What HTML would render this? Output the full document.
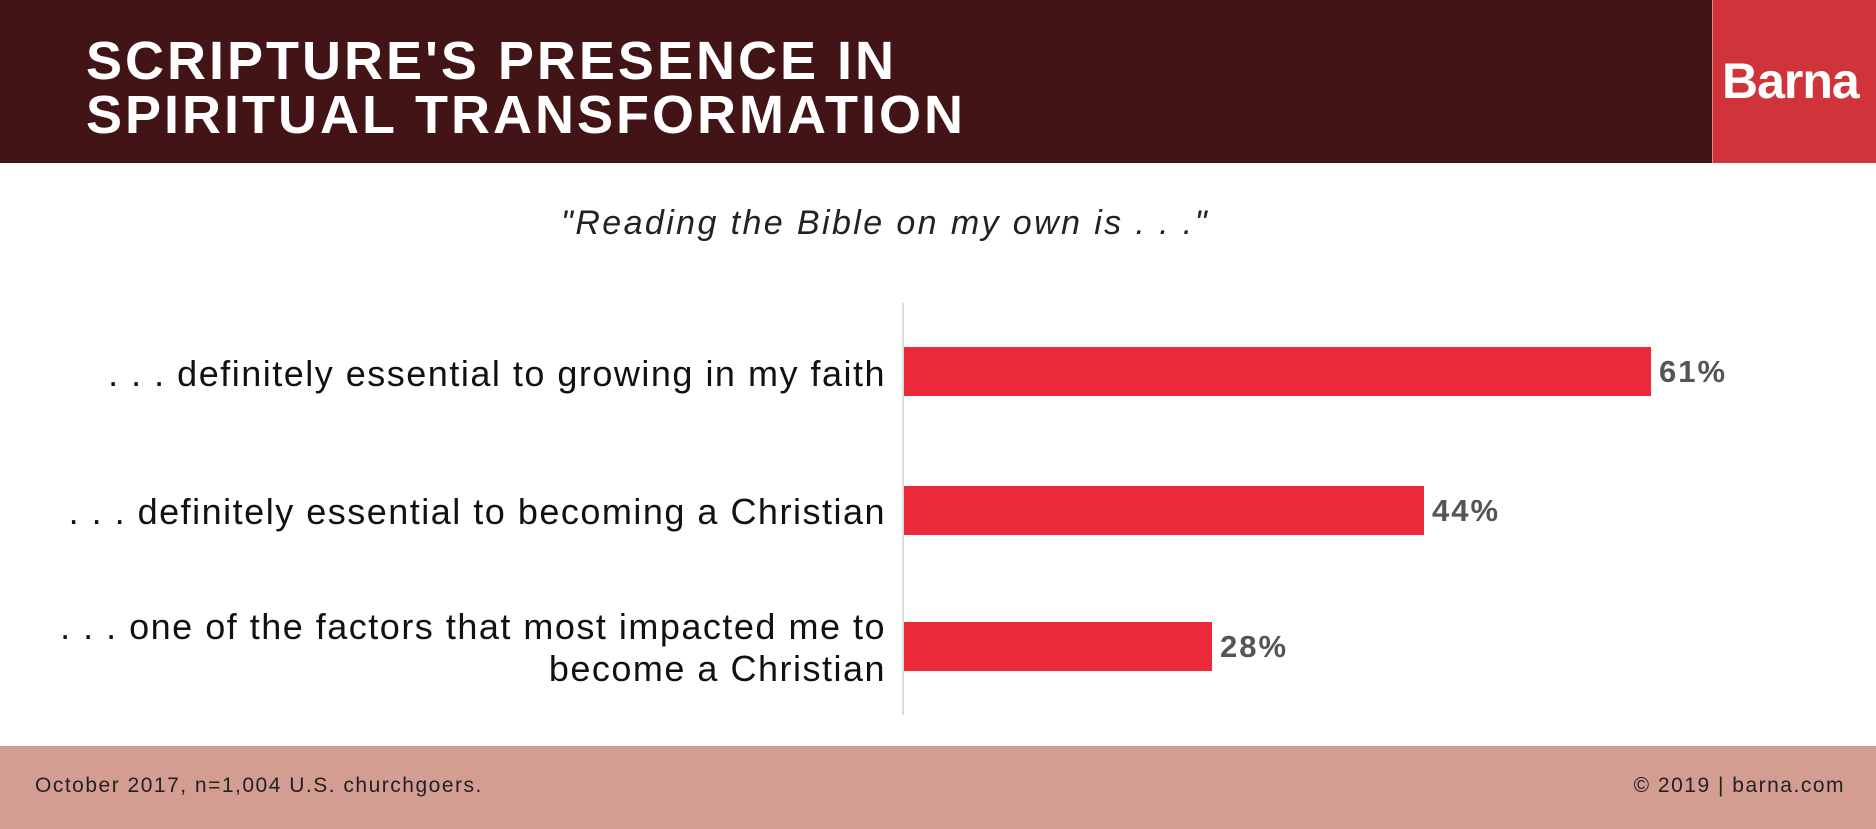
<!DOCTYPE html>
<html><head><meta charset="utf-8"><style>
body{margin:0;width:1876px;height:829px;position:relative;background:#fff;font-family:"Liberation Sans",sans-serif;overflow:hidden}
.abs{position:absolute}
.hdr{left:0;top:0;width:1712px;height:163px;background:#431416}
.logo{left:1712px;top:0;width:164px;height:163px;background:#d0343a;border-left:1px solid #e88}
.title{left:86px;top:34px;color:#fff;font-weight:bold;font-size:54px;line-height:54px;letter-spacing:3px}
.brand{left:1722px;top:52px;color:#fff;font-weight:bold;font-size:50px;letter-spacing:-1px}
.sub{left:0;width:1770px;text-align:center;top:204px;font-style:italic;font-size:34px;color:#222;letter-spacing:2.4px}
.axis{left:902px;top:303px;width:2px;height:412px;background:#ddd}
.bar{left:904px;background:#ed2a3b;height:49px}
.lbl{right:990px;text-align:right;font-size:36px;line-height:42px;color:#111;letter-spacing:1.5px}
.val{font-size:31px;font-weight:bold;color:#555;letter-spacing:2px}
.ftr{left:0;top:746px;width:1876px;height:83px;background:#d49d91}
.ft{top:774px;font-size:21px;color:#222;letter-spacing:1.5px}
</style></head><body>
<div class="abs hdr"></div><div class="abs logo"></div>
<div class="abs title">SCRIPTURE'S PRESENCE IN<br>SPIRITUAL TRANSFORMATION</div>
<div class="abs brand">Barna</div>
<div class="abs sub">"Reading the Bible on my own is . . ."</div>
<div class="abs axis"></div>
<div class="abs bar" style="top:347px;width:747px"></div>
<div class="abs bar" style="top:486px;width:520px"></div>
<div class="abs bar" style="top:622px;width:308px"></div>
<div class="abs val" style="left:1659px;top:354px">61%</div>
<div class="abs val" style="left:1432px;top:493px">44%</div>
<div class="abs val" style="left:1220px;top:629px">28%</div>
<div class="abs lbl" style="top:353px">. . . definitely essential to growing in my faith</div>
<div class="abs lbl" style="top:491px">. . . definitely essential to becoming a Christian</div>
<div class="abs lbl" style="top:606px">. . . one of the factors that most impacted me to<br>become a Christian</div>
<div class="abs ftr"></div>
<div class="abs ft" style="left:35px">October 2017, n=1,004 U.S. churchgoers.</div>
<div class="abs ft" style="right:31px">© 2019 | barna.com</div>
</body></html>
